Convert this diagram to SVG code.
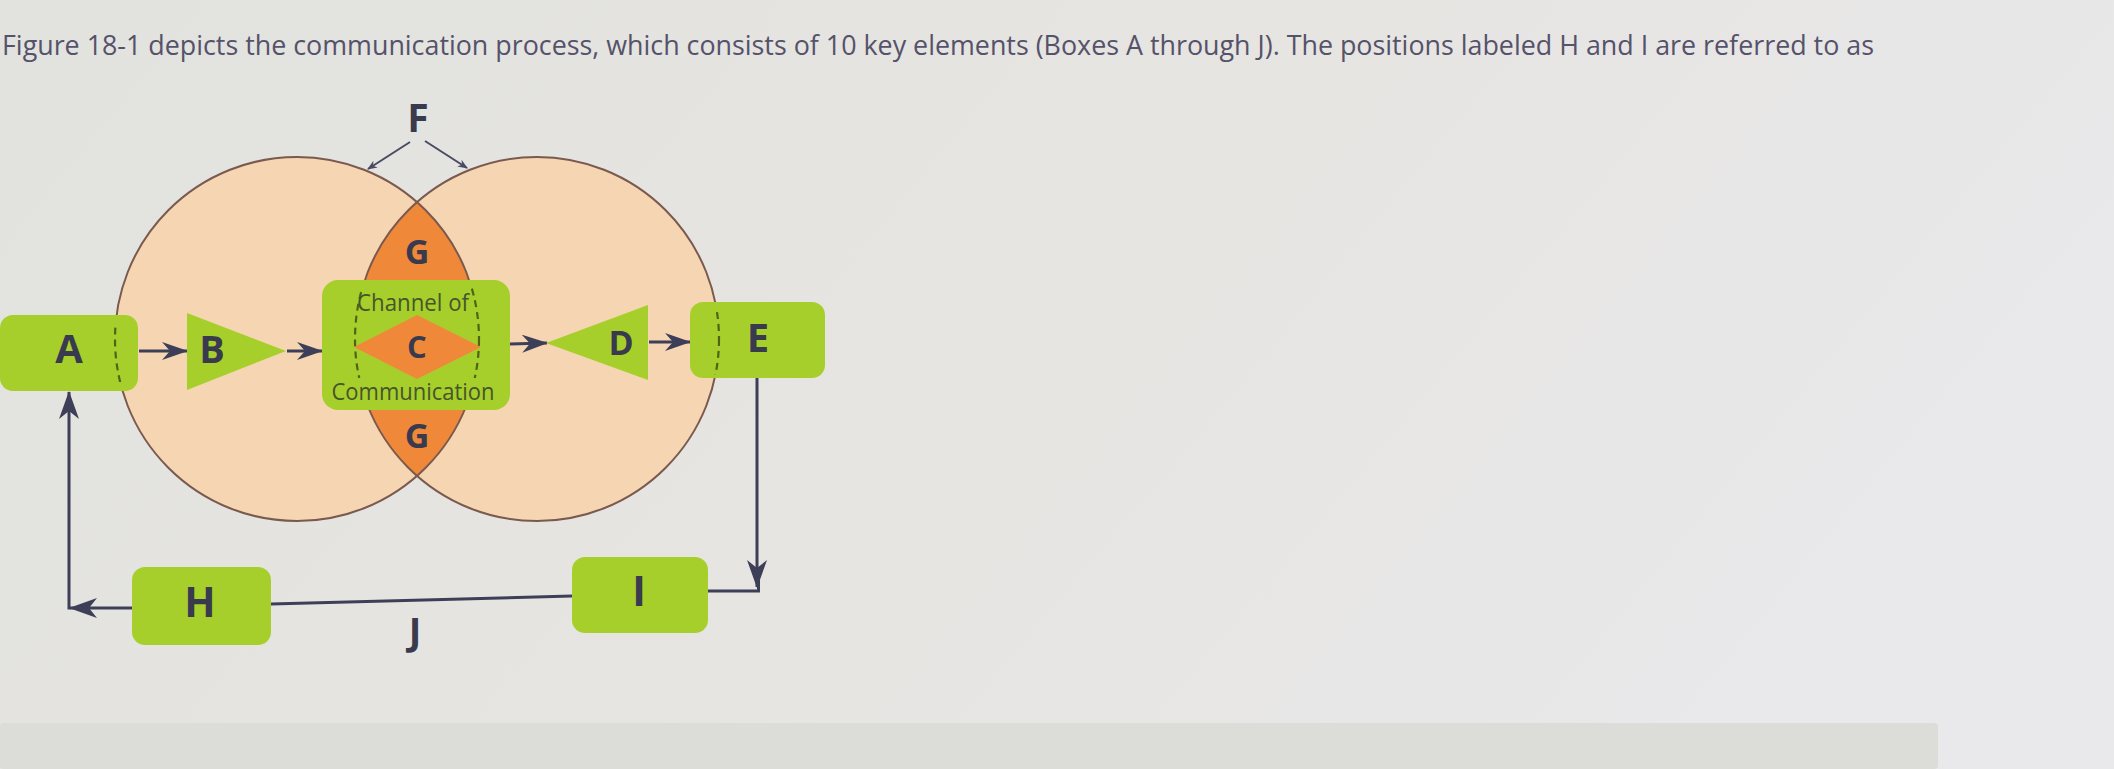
<svg xmlns="http://www.w3.org/2000/svg" width="2114" height="769" viewBox="0 0 2114 769">
<defs>
<linearGradient id="bg" x1="0" y1="0" x2="1" y2="0.3">
<stop offset="0" stop-color="#e2e2de"/>
<stop offset="0.6" stop-color="#e6e5e2"/>
<stop offset="1" stop-color="#e9e8ea"/>
</linearGradient>
<marker id="arr" viewBox="0 0 28 20" refX="27" refY="10" markerWidth="28" markerHeight="20" markerUnits="userSpaceOnUse" orient="auto">
<path d="M0,0 L28,10 L0,20 L8,10 Z" fill="#3d3f58"/>
</marker>
<marker id="arrM" viewBox="0 0 26 18" refX="25" refY="9" markerWidth="26" markerHeight="18" markerUnits="userSpaceOnUse" orient="auto">
<path d="M0,0 L26,9 L0,18 L8,9 Z" fill="#3d3f58"/>
</marker>
<marker id="arrS" viewBox="0 0 10 8" refX="9" refY="4" markerWidth="10" markerHeight="8" markerUnits="userSpaceOnUse" orient="auto">
<path d="M0,0 L10,4 L0,8 L3,4 Z" fill="#4a4a62"/>
</marker>
<clipPath id="clipR"><circle cx="537" cy="339" r="182"/></clipPath>
<clipPath id="clipA"><rect x="90" y="325" width="50" height="57"/></clipPath>
<clipPath id="clipC"><rect x="330" y="288" width="175" height="90"/></clipPath>
<clipPath id="clipE"><rect x="690" y="311" width="50" height="64"/></clipPath>
<style>
.circ{fill:#f6d5b2}
.outl{fill:none;stroke:#7a5a4e;stroke-width:2}
.lens{fill:#f0883a}
.box{fill:#a7cf2c}
.dash{fill:none;stroke:#4f6418;stroke-width:2.2;stroke-dasharray:7 5}
.lbl{font-family:"Open Sans","Liberation Sans",sans-serif;font-weight:700;fill:#3a3a4e;text-anchor:middle}
.sub{font-family:"Open Sans","Liberation Sans",sans-serif;font-weight:400;fill:#46552a;text-anchor:middle;font-size:23px}
.con{fill:none;stroke:#3d3f58;stroke-width:3}
.fcon{fill:none;stroke:#4a4a62;stroke-width:2}
</style>
</defs>
<rect x="0" y="0" width="2114" height="769" fill="url(#bg)"/>
<rect x="0" y="723" width="1938" height="46" rx="4" fill="#dcdcd9"/>
<text x="2" y="55" font-family="'Open Sans','Liberation Sans',sans-serif" font-size="27" fill="#55526a" textLength="1872" lengthAdjust="spacingAndGlyphs">Figure 18-1 depicts the communication process, which consists of 10 key elements (Boxes A through J). The positions labeled H and I are referred to as</text>

<g id="circles">
<circle class="circ" cx="297" cy="339" r="182"/>
<circle class="circ" cx="537" cy="339" r="182"/>
<circle class="lens" cx="297" cy="339" r="182" clip-path="url(#clipR)"/>
<circle class="outl" cx="297" cy="339" r="182"/>
<circle class="outl" cx="537" cy="339" r="182"/>
</g>

<g id="F">
<text class="lbl" x="418" y="132" font-size="39">F</text>
</g>
<g id="G-top"><text class="lbl" x="417" y="264" font-size="34">G</text></g>
<g id="G-bottom"><text class="lbl" x="417" y="448" font-size="34">G</text></g>

<g id="connectors">
<path class="fcon" d="M410,142 L368,169" marker-end="url(#arrS)"/>
<path class="fcon" d="M425,141 L467,168" marker-end="url(#arrS)"/>
<path class="con" d="M139,351 L187,351" marker-end="url(#arrM)"/>
<path class="con" d="M287,351 L322,351" marker-end="url(#arrM)"/>
<path class="con" d="M510,344 L547,343" marker-end="url(#arrM)"/>
<path class="con" d="M649,342 L690,342" marker-end="url(#arrM)"/>
<path class="con" d="M757,378 L757,587" marker-end="url(#arr)"/>
<path class="con" d="M708,591 L758.5,591 L758.5,580"/>
<path class="con" d="M271,604 L572,596"/>
<path class="con" d="M132,608 L70,608" marker-end="url(#arr)"/>
<path class="con" d="M69,609.5 L69,392" marker-end="url(#arr)"/>
</g>

<g id="A">
<rect class="box" x="0" y="315" width="138" height="76" rx="13"/>
<circle class="dash" cx="297" cy="339" r="182" clip-path="url(#clipA)"/>
<text class="lbl" x="69" y="363" font-size="40">A</text>
</g>

<g id="B">
<path class="box" d="M187,313 L286,351 L187,390 Z"/>
<text class="lbl" x="212" y="363" font-size="38">B</text>
</g>

<g id="C">
<rect class="box" x="322" y="280" width="188" height="130" rx="16"/>
<circle class="dash" cx="297" cy="339" r="182" clip-path="url(#clipC)"/>
<circle class="dash" cx="537" cy="339" r="182" clip-path="url(#clipC)"/>
<path class="lens" d="M417,315 L481,347 L417,379 L354,347 Z"/>
<text class="lbl" x="417" y="358" font-size="31">C</text>
<text class="sub" x="413" y="311" textLength="112" lengthAdjust="spacingAndGlyphs">Channel of</text>
<text class="sub" x="413" y="400" textLength="163" lengthAdjust="spacingAndGlyphs">Communication</text>
</g>

<g id="D">
<path class="box" d="M546,343 L648,305 L648,380 Z"/>
<text class="lbl" x="621" y="355" font-size="34">D</text>
</g>

<g id="E">
<rect class="box" x="690" y="302" width="135" height="76" rx="13"/>
<circle class="dash" cx="537" cy="339" r="182" clip-path="url(#clipE)"/>
<text class="lbl" x="758" y="352" font-size="40">E</text>
</g>

<g id="H">
<rect class="box" x="132" y="567" width="139" height="78" rx="13"/>
<text class="lbl" x="200" y="617" font-size="41">H</text>
</g>

<g id="I">
<rect class="box" x="572" y="557" width="136" height="76" rx="13"/>
<text class="lbl" x="639" y="606" font-size="41">I</text>
</g>

<g id="J">
<text class="lbl" x="415" y="645" font-size="38">J</text>
</g>
</svg>
